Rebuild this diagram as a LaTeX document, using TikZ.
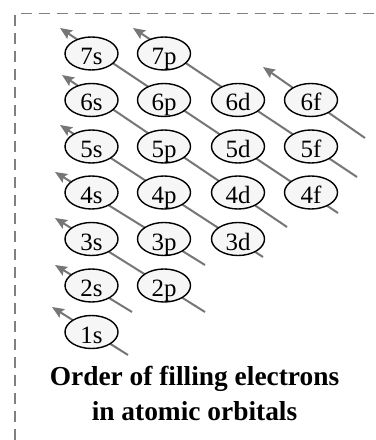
\documentclass[tikz,border=0pt]{standalone}
\usepackage{fontspec}
\setmainfont{Liberation Serif}
\usepackage{tikz}
\usetikzlibrary{shapes.geometric,arrows.meta}
\definecolor{arrowgray}{RGB}{118,118,118}
\definecolor{framegray}{RGB}{128,128,128}
\definecolor{orbfill}{RGB}{246,246,246}
\tikzset{
    orbital/.style={ellipse,draw=black,line width=1.4bp,fill=orbfill,
        minimum width=53bp,minimum height=33bp,inner sep=0pt,
        text height=22bp,text depth=0pt,font=\fontsize{25}{25}\selectfont},
    fillarrow/.style={draw=arrowgray,line width=2bp,
        -{Stealth[length=12bp,width=10bp,inset=2bp]}},
    frameline/.style={draw=framegray,line width=1.3bp,dash pattern=on 11bp off 7bp}
}

\begin{document}
\begin{tikzpicture}[x=1bp,y=-1bp]
\useasboundingbox (0,0) rectangle (375,440);
% frame (only top and left show)
\draw[frameline] (15,440) -- (15,13.5) -- (375,13.5);

% tails and tips of the arrows
\coordinate (t1) at (128,355); \coordinate (h1) at (52,307);
\coordinate (t2) at (132,312); \coordinate (h2) at (55,265);
\coordinate (t3) at (205,312); \coordinate (h3) at (55,218);
\coordinate (t4) at (205,265); \coordinate (h4) at (55,172);
\coordinate (t5) at (263,257); \coordinate (h5) at (60,125);
\coordinate (t6) at (287,227); \coordinate (h6) at (62,75);
\coordinate (t7) at (338,213); \coordinate (h7) at (60,28);
\coordinate (t8) at (357,177); \coordinate (h8) at (133,28);
\coordinate (t9) at (365,138); \coordinate (h9) at (263,67);
\foreach \i in {1,...,9}
    \draw[fillarrow] (t\i) -- (h\i);

% orbitals
\node[orbital] (o1s) at (91.5,332) {1s};
\node[orbital] (o2s) at (91.5,285.5) {2s};
\node[orbital] (o2p) at (164,285.5) {2p};
\node[orbital] (o3s) at (91.5,239) {3s};
\node[orbital] (o3p) at (164,239) {3p};
\node[orbital] (o3d) at (238,239) {3d};
\node[orbital] (o4s) at (91.5,192.5) {4s};
\node[orbital] (o4p) at (164,192.5) {4p};
\node[orbital] (o4d) at (238,192.5) {4d};
\node[orbital] (o4f) at (311,192.5) {4f};
\node[orbital] (o5s) at (91.5,146.5) {5s};
\node[orbital] (o5p) at (164,146.5) {5p};
\node[orbital] (o5d) at (238,146.5) {5d};
\node[orbital] (o5f) at (311,146.5) {5f};
\node[orbital] (o6s) at (91.5,100) {6s};
\node[orbital] (o6p) at (164,100) {6p};
\node[orbital] (o6d) at (238,100) {6d};
\node[orbital] (o6f) at (311,100) {6f};
\node[orbital] (o7s) at (91.5,53.5) {7s};
\node[orbital] (o7p) at (164,53.5) {7p};

% caption (base = baseline of last line)
\node[anchor=base,align=center,inner sep=0pt,
      font=\fontsize{27.5}{35}\selectfont\bfseries] (caption) at (194.5,420.5)
    {Order of filling electrons\\in atomic orbitals};
\end{tikzpicture}
\end{document}
